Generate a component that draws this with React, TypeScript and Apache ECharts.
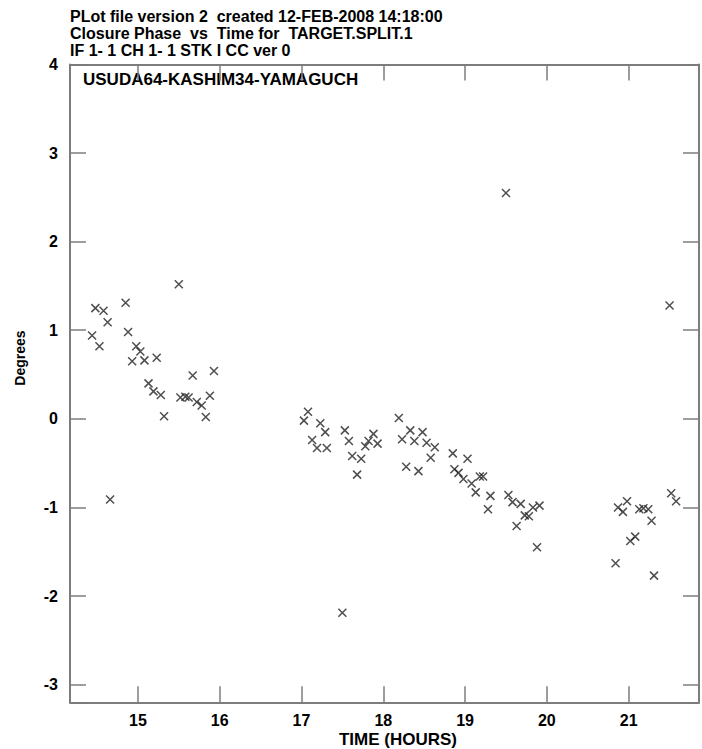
import React, { useEffect, useRef } from "react";
import * as echarts from "echarts";

const titleLines: string[] = [
  "PLot file version 2  created 12-FEB-2008 14:18:00",
  "Closure Phase  vs  Time for  TARGET.SPLIT.1",
  "IF 1- 1 CH 1- 1 STK I CC ver 0",
];
const baselineLabel = "USUDA64-KASHIM34-YAMAGUCH";
const xAxisTitle = "TIME (HOURS)";
const yAxisTitle = "Degrees";

const xRange = [14.17, 21.86];
const yRange = [-3.2, 4];

const timeHours: number[] = [
  14.44, 14.48, 14.53, 14.58, 14.63, 14.66, 14.85, 14.88, 14.93, 14.98,
  15.03, 15.08, 15.13, 15.19, 15.23, 15.28, 15.32, 15.5, 15.52, 15.58,
  15.62, 15.67, 15.72, 15.78, 15.83, 15.88, 15.93,
  17.03, 17.08, 17.13, 17.19, 17.23, 17.29, 17.31, 17.5, 17.53, 17.58,
  17.62, 17.68, 17.73, 17.78, 17.82, 17.88, 17.93,
  18.19, 18.23, 18.28, 18.33, 18.38, 18.43, 18.48, 18.53, 18.58, 18.63,
  18.85, 18.87, 18.92, 18.98, 19.03, 19.08, 19.13, 19.18, 19.22, 19.28,
  19.31, 19.5, 19.53, 19.58, 19.63, 19.68, 19.73, 19.78, 19.83, 19.88, 19.91,
  20.84, 20.87, 20.93, 20.98, 21.02, 21.08, 21.13, 21.18, 21.24, 21.28,
  21.31, 21.5, 21.52, 21.58,
];
const phaseDeg: number[] = [
  0.94, 1.25, 0.82, 1.22, 1.09, -0.91, 1.31, 0.98, 0.65, 0.82,
  0.76, 0.66, 0.4, 0.31, 0.69, 0.27, 0.03, 1.52, 0.24, 0.25,
  0.24, 0.49, 0.19, 0.15, 0.02, 0.26, 0.54,
  -0.02, 0.08, -0.24, -0.33, -0.05, -0.15, -0.33, -2.19, -0.13, -0.25,
  -0.42, -0.63, -0.45, -0.31, -0.25, -0.17, -0.28,
  0.01, -0.23, -0.54, -0.13, -0.25, -0.59, -0.15, -0.27, -0.44, -0.32,
  -0.39, -0.57, -0.61, -0.68, -0.45, -0.73, -0.83, -0.65, -0.65, -1.02,
  -0.87, 2.55, -0.86, -0.94, -1.21, -0.96, -1.09, -1.1, -1.0, -1.45, -0.98,
  -1.63, -1.0, -1.05, -0.93, -1.38, -1.33, -1.02, -1.01, -1.02, -1.15,
  -1.77, 1.28, -0.84, -0.93,
];

const FONT = "'Liberation Sans', Arial, Helvetica, sans-serif";
const AXIS_GRAY = "#7d7d7d";

export default function App() {
  const ref = useRef<HTMLDivElement>(null);

  useEffect(() => {
    if (!ref.current) return;
    const chart = echarts.init(ref.current, undefined, { renderer: "svg" });
    const points = timeHours.map((t, i) => [t, phaseDeg[i]]);
    const intLabel = (v: number) =>
      Math.abs(v - Math.round(v)) < 1e-9 ? String(Math.round(v)) : "";

    const axisCommon = {
      type: "value" as const,
      minInterval: 1,
      maxInterval: 1,
      splitLine: { show: false },
      axisLine: {
        show: true,
        onZero: false,
        lineStyle: { color: AXIS_GRAY, width: 2 },
      },
      axisTick: {
        show: true,
        inside: true,
        length: 16,
        lineStyle: { color: AXIS_GRAY, width: 1.5 },
      },
    };

    chart.setOption({
      animation: false,
      backgroundColor: "#ffffff",
      grid: { left: 70, right: -7, top: 64.5, bottom: 46.7, containLabel: false },
      xAxis: [
        {
          ...axisCommon,
          position: "bottom",
          min: xRange[0],
          max: xRange[1],
          axisLabel: {
            show: true,
            formatter: intLabel,
            color: "#000",
            fontFamily: FONT,
            fontWeight: "bold",
            fontSize: 16,
            margin: 10,
          },
        },
        {
          ...axisCommon,
          position: "top",
          min: xRange[0],
          max: xRange[1],
          axisLabel: { show: false },
        },
      ],
      yAxis: [
        {
          ...axisCommon,
          position: "left",
          min: yRange[0],
          max: yRange[1],
          axisLabel: {
            show: true,
            formatter: intLabel,
            color: "#000",
            fontFamily: FONT,
            fontWeight: "bold",
            fontSize: 16,
            margin: 12,
          },
        },
        {
          ...axisCommon,
          position: "right",
          min: yRange[0],
          max: yRange[1],
          axisLabel: { show: false },
        },
      ],
      series: [
        {
          type: "scatter",
          xAxisIndex: 0,
          yAxisIndex: 0,
          data: points,
          symbol: "path://M0,0L10,10M10,0L0,10",
          symbolSize: 8,
          itemStyle: {
            color: "rgba(0,0,0,0)",
            borderColor: "#222",
            borderWidth: 1.5,
          },
          clip: true,
        },
      ],
      graphic: [
        ...titleLines.map((line, i) => ({
          type: "text",
          x: 70,
          y: 16 + i * 17.3,
          style: {
            text: line,
            fill: "#000",
            font: `bold 16px ${FONT}`,
            verticalAlign: "middle",
          },
        })),
        {
          type: "text",
          x: 83,
          y: 79,
          style: {
            text: baselineLabel,
            fill: "#000",
            font: `bold 17px ${FONT}`,
            verticalAlign: "middle",
          },
        },
        {
          type: "text",
          x: 398,
          y: 739,
          style: {
            text: xAxisTitle,
            fill: "#000",
            font: `bold 17px ${FONT}`,
            align: "center",
            verticalAlign: "middle",
          },
        },
        {
          type: "text",
          x: 20,
          y: 358,
          rotation: Math.PI / 2,
          style: {
            text: yAxisTitle,
            fill: "#000",
            font: `bold 14px ${FONT}`,
            align: "center",
            verticalAlign: "middle",
          },
        },
      ],
    });

    return () => chart.dispose();
  }, []);

  return (
    <div
      ref={ref}
      style={{
        position: "absolute",
        left: 0,
        top: 0,
        width: 702,
        height: 749,
        overflow: "hidden",
        background: "#fff",
      }}
    />
  );
}
